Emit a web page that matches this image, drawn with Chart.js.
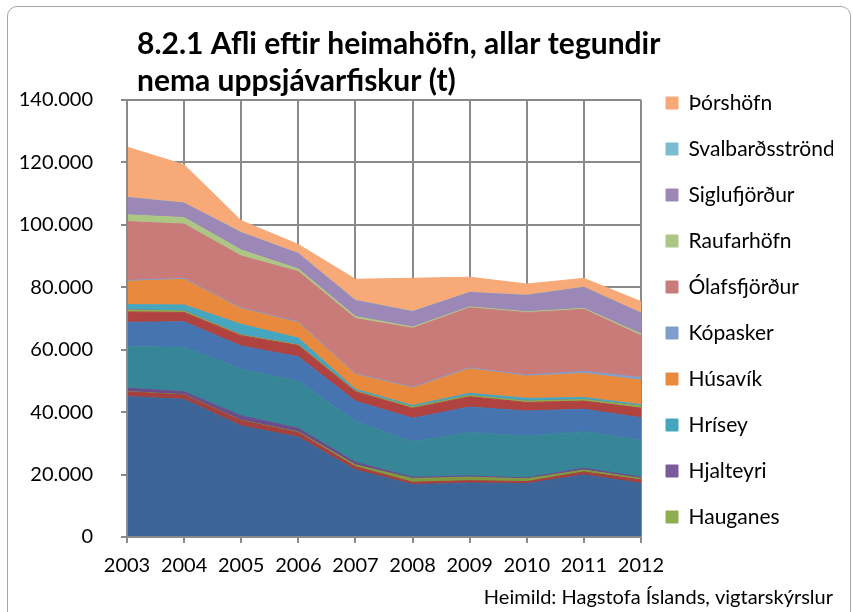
<!DOCTYPE html>
<html>
<head>
<meta charset="utf-8">
<script src="https://cdn.jsdelivr.net/npm/chart.js@4.4.1/dist/chart.umd.min.js"></script>
<style>
  html, body { margin: 0; padding: 0; background: #fff; overflow: hidden; }
  #wrap { position: relative; width: 853px; height: 612px; }
  #frame { position: absolute; left: 7px; top: 6px; width: 842px; height: 700px;
           border: 1px solid #a6a6a6; border-radius: 10px; pointer-events: none; }
</style>
</head>
<body>
<div id="wrap">
  <canvas id="aflaChart" width="853" height="612"></canvas>
  <div id="frame"></div>
</div>
<script>
var years = ['2003', '2004', '2005', '2006', '2007', '2008', '2009', '2010', '2011', '2012'];

// afli í tonnum, neðsta lag fyrst
var akureyri        = [45000, 44100, 35600, 32000, 21500, 16800, 17300, 17100, 19900, 17200];
var arskogssandur   = [1500, 1400, 1700, 1450, 1050, 750, 750, 650, 950, 1100];
var bakkafjordur    = [100, 100, 100, 200, 550, 1200, 1100, 900, 600, 500];
var flatey          = [1100, 950, 1400, 1150, 850, 400, 400, 300, 600, 400];
var dalvik          = [13300, 14200, 15050, 15150, 13150, 11400, 13900, 13400, 11700, 11850];
var grenivik        = [7800, 8200, 7350, 7800, 6400, 7500, 8200, 8000, 7200, 7150];
var grimsey         = [3300, 3000, 3300, 3600, 3050, 3200, 3300, 2750, 2600, 3100];
var hauganes        = [650, 450, 250, 250, 250, 400, 450, 450, 500, 650];
var hjalteyri       = [50, 40, 30, 20, 20, 30, 40, 30, 20, 20];
var hrisey          = [1650, 1900, 3350, 2100, 500, 450, 600, 850, 630, 420];
var husavik         = [7450, 8200, 5000, 4900, 4700, 5600, 7850, 7100, 7700, 7900];
var kopasker        = [300, 300, 250, 250, 250, 250, 300, 300, 650, 800];
var olafsfjordur    = [18850, 17400, 16650, 16150, 17700, 18900, 19250, 20050, 19900, 13400];
var raufarhofn      = [2150, 2100, 1900, 850, 650, 400, 300, 300, 300, 550];
var siglufjordur    = [5550, 4600, 5550, 4900, 5100, 4900, 4550, 5200, 6700, 6650];
var svalbardsstrond = [60, 40, 50, 40, 60, 50, 40, 60, 50, 40];
var thorshofn       = [16100, 12250, 3800, 2900, 6800, 10650, 4900, 3600, 2850, 3700];

var series = [
    ['Akureyri', akureyri, '#3d6496'],
    ['Árskógssandur', arskogssandur, '#a4403d'],
    ['Bakkafjörður', bakkafjordur, '#7f9a3f'],
    ['Flatey', flatey, '#6a4c8c'],
    ['Dalvík', dalvik, '#378698'],
    ['Grenivík', grenivik, '#4674b0'],
    ['Grímsey', grimsey, '#b0433f'],
    ['Hauganes', hauganes, '#8fae51'],
    ['Hjalteyri', hjalteyri, '#7a5c9a'],
    ['Hrísey', hrisey, '#46a5bf'],
    ['Húsavík', husavik, '#e8893d'],
    ['Kópasker', kopasker, '#7f9fcc'],
    ['Ólafsfjörður', olafsfjordur, '#c97b7a'],
    ['Raufarhöfn', raufarhofn, '#adc684'],
    ['Siglufjörður', siglufjordur, '#9c88b6'],
    ['Svalbarðsströnd', svalbardsstrond, '#7bbdd0'],
    ['Þórshöfn', thorshofn, '#f7a978']
];

// only the last ten fit in the legend
var inLegend = ['Hauganes', 'Hjalteyri', 'Hrísey', 'Húsavík', 'Kópasker', 'Ólafsfjörður',
                'Raufarhöfn', 'Siglufjörður', 'Svalbarðsströnd', 'Þórshöfn'];

var datasets = series.map(function (s, i) {
    return {
        label: s[0],
        data: s[1],
        backgroundColor: s[2],
        borderColor: s[2],
        borderWidth: 1,
        pointRadius: 0,
        tension: 0,
        fill: i === 0 ? 'origin' : '-1'
    };
});

function thousands(v) {
    return String(v).replace(/\B(?=(\d{3})+(?!\d))/g, '.');
}

// title starts a little right of the plot edge
var titleShift = {
    id: 'titleShift',
    afterLayout: function (chart) {
        chart.titleBlock.left = chart.chartArea.left + 10;
    }
};

Chart.defaults.font.family = 'Lato';
Chart.defaults.color = '#000';

var gridColor = '#8a8a8a';

var ctx = document.getElementById('aflaChart');
var aflaChart = new Chart(ctx, {
    type: 'line',
    data: {
        labels: years,
        datasets: datasets
    },
    options: {
        responsive: false,
        animation: false,
        layout: {
            padding: { top: 8, right: 20, bottom: 0, left: 0 }
        },
        plugins: {
            title: {
                display: true,
                align: 'start',
                text: ['8.2.1 Afli eftir heimahöfn, allar tegundir', 'nema uppsjávarfiskur (t)'],
                font: { size: 30, weight: 'bold', lineHeight: '37px' },
                padding: { top: 18, bottom: 0 }
            },
            subtitle: {
                display: true,
                position: 'bottom',
                align: 'end',
                text: 'Heimild: Hagstofa Íslands, vigtarskýrslur',
                font: { size: 20, lineHeight: '20px' },
                padding: { top: 0, bottom: 4 }
            },
            legend: {
                position: 'right',
                reverse: true,
                maxWidth: 192,
                labels: {
                    boxWidth: 12,
                    boxHeight: 12,
                    padding: 25,
                    font: { size: 21 },
                    filter: function (item) {
                        return inLegend.indexOf(item.text) !== -1;
                    }
                }
            },
            tooltip: { enabled: false }
        },
        scales: {
            x: {
                grid: { color: gridColor, lineWidth: 2, tickLength: 6 },
                border: { color: gridColor, width: 2, z: 1 },
                ticks: { font: { size: 20 }, padding: 11, maxRotation: 0 },
                afterFit: function (scale) { scale.height = 51; }
            },
            y: {
                stacked: true,
                min: 0,
                max: 140000,
                grid: { color: gridColor, lineWidth: 2, tickLength: 6 },
                border: { color: gridColor, width: 2, z: 1 },
                ticks: {
                    stepSize: 20000,
                    font: { size: 20 },
                    padding: 28,
                    callback: function (v) { return thousands(v); }
                },
                afterFit: function (scale) { scale.width = 127; }
            }
        }
    },
    plugins: [titleShift]
});
</script>
</body>
</html>
